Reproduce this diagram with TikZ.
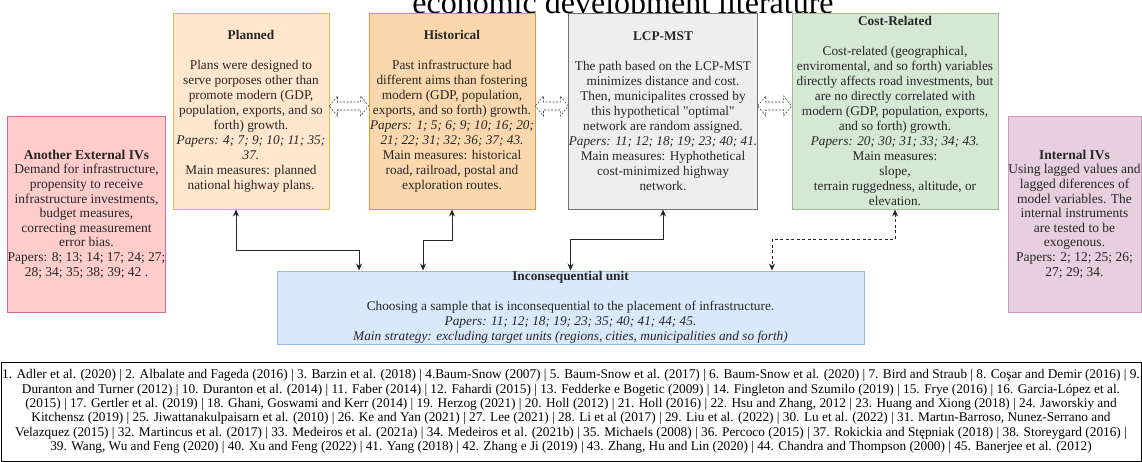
\documentclass[tikz,border=0pt]{standalone}
\usepackage{fontspec}
\setmainfont{Liberation Serif}
\usetikzlibrary{arrows.meta,calc}

\definecolor{planfill}{HTML}{FFE6CC}
\definecolor{planline}{HTML}{E0B84E}
\definecolor{histfill}{HTML}{FAD7AC}
\definecolor{histline}{HTML}{D99A3C}
\definecolor{lcpfill}{HTML}{EEEEEE}
\definecolor{lcpline}{HTML}{707070}
\definecolor{costfill}{HTML}{D5E8D4}
\definecolor{costline}{HTML}{96C28A}
\definecolor{extfill}{HTML}{FFCCCC}
\definecolor{extline}{HTML}{CF6B9A}
\definecolor{intfill}{HTML}{E6D0DE}
\definecolor{intline}{HTML}{C99AB9}
\definecolor{unitfill}{HTML}{DAE8FC}
\definecolor{unitline}{HTML}{9DB9E3}

\begin{document}
\begin{tikzpicture}[
    x=1pt, y=-1pt,
    box/.style={rectangle, draw, line width=0.9pt, align=center, inner sep=0pt, text=black!85, font=\fontsize{13.3}{15}\selectfont},
    sidebox/.style={box, font=\fontsize{13.5}{14.6}\selectfont},
    link/.style={<->, >={Stealth[length=7pt,width=6pt]}, line width=1pt, black!85},
    dotlink/.style={link, dash pattern=on 3pt off 2.5pt},
    flexarrow/.style={draw=black!75, fill=white, line width=0.6pt, dash pattern=on 2pt off 1.5pt,
        to path={let \p1=(\tikztostart), \p2=(\tikztotarget) in
            (\x1,\y1) -- (\x1+8pt,\y1+10pt) -- (\x1+8pt,\y1+4pt) -- (\x2-8pt,\y1+4pt) -- (\x2-8pt,\y1+10pt)
            -- (\x2,\y1) -- (\x2-8pt,\y1-10pt) -- (\x2-8pt,\y1-4pt) -- (\x1+8pt,\y1-4pt) -- (\x1+8pt,\y1-10pt) -- cycle}}
]
\useasboundingbox (0,0) rectangle (1142,462);

% Title
\node[anchor=base, font=\fontsize{32}{36}\selectfont] (title) at (623,14) {economic development literature};

% Strategies
\node[box, fill=planfill, draw=planline, minimum width=156pt, minimum height=196pt] (planned) at (251,111)
    {\textbf{Planned}\\[15pt]
     Plans were designed to\\ serve porposes other than\\ promote modern (GDP,\\ population, exports, and so\\ forth) growth.\\
     \textit{Papers: 4; 7; 9; 10; 11; 35;}\\ \textit{37.}\\
     Main measures:  planned\\ national highway plans.};
\node[box, fill=histfill, draw=histline, minimum width=166pt, minimum height=196pt] (hist) at (452,111)
    {\textbf{Historical}\\[15pt]
     Past infrastructure had\\ different aims than fostering\\ modern (GDP, population,\\ exports, and so forth) growth.\\
     \textit{Papers: 1; 5; 6; 9; 10; 16; 20;}\\ \textit{21; 22; 31; 32; 36; 37; 43.}\\
     Main measures: historical\\ road, railroad, postal and\\ exploration routes.};
\node[box, fill=lcpfill, draw=lcpline, minimum width=176pt, minimum height=196pt] (lcp) at (663,111)
    {\textbf{LCP-MST}\\[15pt]
     The path based on the LCP-MST\\ minimizes distance and cost.\\ Then, municipalites crossed by\\ this hypothetical {\addfontfeatures{Ligatures=TeXOff}"optimal"}\\ network are random assigned.\\
     \textit{Papers: 11; 12; 18; 19; 23; 40; 41.}\\
     Main measures: Hyphothetical\\ cost-minimized highway\\ network.};
\node[box, fill=costfill, draw=costline, minimum width=206pt, minimum height=196pt] (cost) at (895,111)
    {\textbf{Cost-Related}\\[15pt]
     Cost-related (geographical,\\ enviromental, and so forth) variables\\ directly affects road investments, but\\ are no directly correlated with\\ modern (GDP, population, exports,\\ and so forth) growth.\\
     \textit{Papers: 20; 30; 31; 33; 34; 43.}\\
     Main measures:\\ slope,\\ terrain ruggedness, altitude, or\\ elevation.};

% IV boxes
\node[sidebox, fill=extfill, draw=extline, minimum width=155pt, minimum height=196pt] (extiv) at (86.5,214)
    {\textbf{Another External IVs}\\
     Demand for infrastructure,\\ propensity to receive\\ infrastructure investments,\\ budget measures,\\ correcting measurement\\ error bias.\\
     Papers: 8; 13; 14; 17; 24; 27;\\ 28; 34; 35; 38; 39; 42 .};
\node[sidebox, fill=intfill, draw=intline, minimum width=133pt, minimum height=196pt] (intiv) at (1074.5,214)
    {\textbf{Internal IVs}\\
     Using lagged values and\\ lagged diferences of\\ model variables. The\\ internal instruments\\ are tested to be\\ exogenous.\\
     Papers: 2; 12; 25; 26;\\ 27; 29; 34.};

% Inconsequential unit
\node[box, fill=unitfill, draw=unitline, minimum width=587pt, minimum height=73pt] (unit) at (570.5,307.5)
    {\textbf{Inconsequential unit}\\[15pt]
     Choosing a sample that is inconsequential to the placement of infrastructure.\\
     \textit{Papers:  11; 12; 18; 19; 23; 35; 40; 41; 44; 45.}\\
     \textit{Main strategy: excluding target units (regions, cities, municipalities and so forth)}};

% References
\node[rectangle, draw, line width=0.8pt, align=center, inner sep=0pt, minimum width=1140pt, minimum height=99pt,
      font=\fontsize{13.3}{14.3}\selectfont] (refs) at (571,411.5)
    {1. Adler et al. (2020) | 2. Albalate and Fageda (2016) | 3. Barzin et al. (2018) | 4.Baum-Snow (2007) | 5. Baum-Snow et al. (2017) | 6. Baum-Snow et al. (2020) | 7. Bird and Straub | 8. Coşar and Demir (2016) | 9.\\
     Duranton and Turner (2012) | 10. Duranton et al. (2014) | 11. Faber (2014) | 12. Fahardi (2015) | 13. Fedderke e Bogetic (2009) | 14. Fingleton and Szumilo (2019) | 15. Frye (2016) | 16. Garcia-López et al.\\
     (2015) | 17. Gertler et al. (2019) | 18. Ghani, Goswami and Kerr (2014) | 19. Herzog (2021) | 20. Holl (2012) | 21. Holl (2016) | 22. Hsu and Zhang, 2012 | 23. Huang and Xiong (2018) |  24. Jaworskiy and\\
     Kitchensz (2019) | 25. Jiwattanakulpaisarn et al. (2010) | 26.  Ke and Yan (2021) | 27. Lee (2021) | 28. Li et al (2017) | 29. Liu et al. (2022) | 30. Lu et al. (2022) | 31. Martın-Barroso, Nunez-Serrano and\\
     Velazquez (2015) | 32. Martincus et al. (2017) | 33. Medeiros et al. (2021a) | 34. Medeiros et al. (2021b) | 35. Michaels (2008) | 36. Percoco (2015) | 37. Rokickia and Stępniak (2018) | 38. Storeygard (2016) |\\
     39. Wang,  Wu and Feng (2020) | 40. Xu and Feng (2022) | 41. Yang (2018) | 42. Zhang e Ji (2019) | 43. Zhang, Hu and Lin (2020) | 44. Chandra and Thompson (2000) | 45. Banerjee et al. (2012)};

% Equivalence arrows
\draw[flexarrow] ([yshift=5pt]planned.east) to ([yshift=5pt]hist.west);
\draw[flexarrow] ([yshift=5pt]hist.east) to ([yshift=5pt]lcp.west);
\draw[flexarrow] ([yshift=5pt]lcp.east) to ([yshift=5pt]cost.west);

% Links to the inconsequential unit
\draw[link] ([xshift=-15pt]planned.south) -- ++(0,41) -| ([xshift=-211.5pt]unit.north);
\draw[link] (hist.south) -- ++(0,31) -| ([xshift=-147.5pt]unit.north);
\draw[link] (lcp.south) -- ++(0,30) -| (unit.north);
\draw[dotlink] (cost.south) -- ++(0,30) -| ([xshift=201.5pt]unit.north);

\end{tikzpicture}
\end{document}
